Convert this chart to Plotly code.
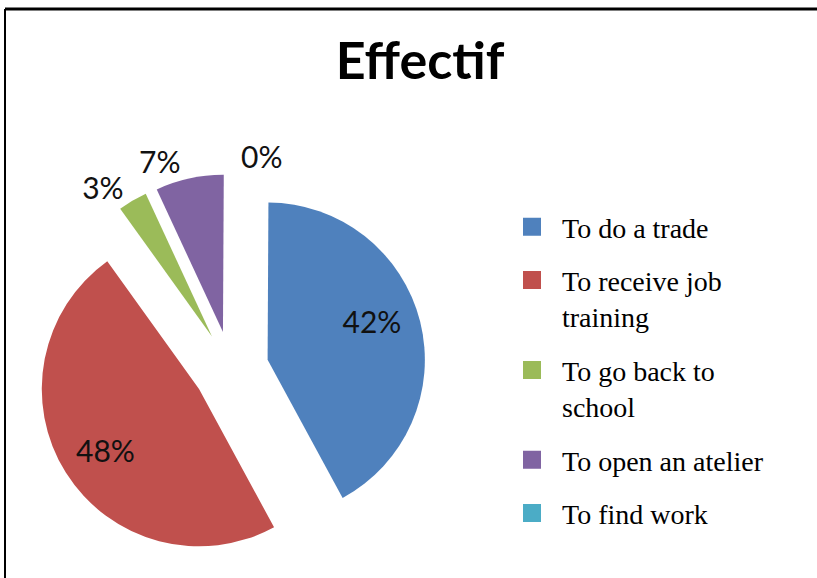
import plotly.graph_objects as go

categories = ["To do a trade", "To receive job<br>training", "To go back to<br>school",
              "To open an atelier", "To find work"]
values = [42, 48, 3, 7, 0]
colors = ["#4F81BD", "#C0504D", "#9BBB59", "#8064A2", "#4BACC6"]
# labels split over two overlaid pies so that plotly does not push them apart
pos_main = ["inside", "inside", "none", "outside", "none"]
pos_extra = ["none", "none", "outside", "none", "outside"]

W, H = 817, 578
NB = "\u00a0"
pct = "%{percent:.0%}"
tmpl_main = [NB * 7 + pct + "<br>" + NB, NB + "<br>" + pct + NB * 7, "", pct, ""]

common = dict(labels=categories, values=values, sort=False, direction="clockwise",
              rotation=0.3, pull=[0.24] * len(values),
              textfont=dict(family="Lato", size=30, color="#111111"),
              insidetextorientation="horizontal",
              domain=dict(x=[36 / W, 426 / W], y=[14 / H, 404 / H]),
              showlegend=False)

fig = go.Figure()
fig.add_trace(go.Pie(
    marker=dict(colors=colors, line=dict(width=0)),
    textposition=pos_main, texttemplate=tmpl_main,
    hoverinfo="label+percent", **common,
))
fig.add_trace(go.Pie(
    marker=dict(colors=["rgba(0,0,0,0)"] * len(values), line=dict(width=0)),
    textposition=pos_extra, texttemplate=pct,
    hoverinfo="skip", **common,
))

for i, (cat, col) in enumerate(zip(categories, colors)):
    fig.add_trace(go.Scatter(
        x=[None], y=[None], mode="markers", name=cat, legendgroup=f"g{i}",
        marker=dict(symbol="square", size=16, color=col, line=dict(width=2, color=col)),
        showlegend=True,
    ))

fig.update_layout(
    template="none",
    width=W, height=H,
    margin=dict(l=0, r=0, t=0, b=0, pad=0, autoexpand=False),
    paper_bgcolor="white", plot_bgcolor="white",
    xaxis=dict(visible=False), yaxis=dict(visible=False),
    title=dict(text="<b>Effectif</b>", x=420 / W, xanchor="center",
               y=1 - 61 / H, yanchor="middle",
               font=dict(family="Lato", size=52, color="black")),
    legend=dict(x=502 / W, xanchor="left", y=1 - 202 / H, yanchor="top",
                font=dict(family="Liberation Serif", size=28, color="black"),
                valign="top", tracegroupgap=14, itemwidth=50,
                bgcolor="rgba(0,0,0,0)"),
    shapes=[
        dict(type="line", xref="paper", yref="paper", x0=5 / W, x1=1, y0=1 - 9 / H, y1=1 - 9 / H,
             line=dict(color="black", width=3)),
        dict(type="line", xref="paper", yref="paper", x0=5 / W, x1=5 / W, y0=0, y1=1 - 9 / H,
             line=dict(color="black", width=2)),
    ],
)

fig.write_html("out.html")
